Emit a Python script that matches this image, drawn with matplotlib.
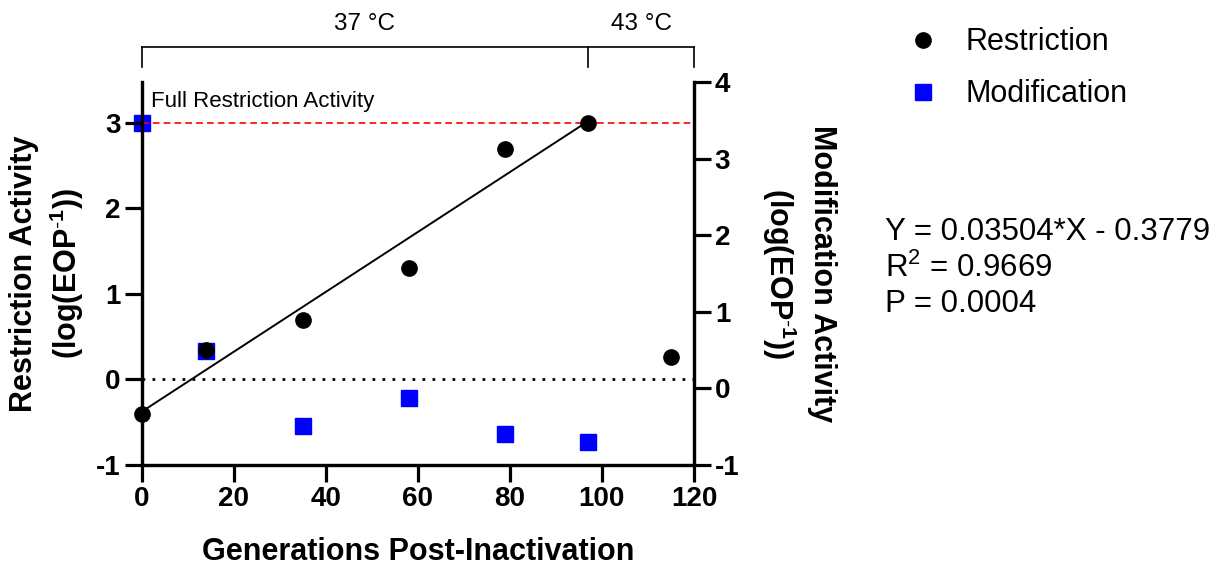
import matplotlib
matplotlib.use("Agg")
import matplotlib.pyplot as plt
import matplotlib.transforms as mtransforms
from matplotlib.lines import Line2D

plt.rcParams["font.family"] = ["Liberation Sans", "DejaVu Sans"]
plt.rcParams["mathtext.fontset"] = "custom"
plt.rcParams["mathtext.rm"] = "Liberation Sans"
plt.rcParams["mathtext.bf"] = "Liberation Sans:bold"
plt.rcParams["mathtext.default"] = "regular"
plt.rcParams["axes.unicode_minus"] = False

# restriction activity, left axis
gen_restr = [0, 14, 35, 58, 79, 97, 115]
restriction = [-0.40, 0.34, 0.69, 1.30, 2.70, 3.00, 0.26]

# modification activity, right axis
gen_mod = [0, 14, 35, 58, 79, 97]
modification = [3.47, 0.49, -0.49, -0.12, -0.60, -0.70]

# linear fit reported for restriction (37 °C points)
slope, intercept = 0.03504, -0.3779
fit_x = [0, 97]
full_restriction = 3.0

phases = [("37 °C", 0, 97), ("43 °C", 97, 120)]

fig = plt.figure(figsize=(12.15, 5.65), dpi=100)
ax = fig.add_axes([0.1165, 0.177, 0.4547, 0.678])
ax2 = ax.twinx()
ax.set_zorder(ax2.get_zorder() + 1)
ax.patch.set_visible(False)

ax.set_xlim(0, 120)
ax.set_ylim(-1, 3.48)
ax2.set_ylim(-1, 4)
ax.set_xticks(range(0, 121, 20))
ax.set_yticks([-1, 0, 1, 2, 3])
ax2.set_yticks([-1, 0, 1, 2, 3, 4])

lw_axis = 2.3
for a in (ax, ax2):
    for s in a.spines.values():
        s.set_linewidth(lw_axis)
    a.spines["top"].set_visible(False)
    a.tick_params(width=lw_axis, length=12, labelsize=20, pad=3)
    for lab in a.get_xticklabels() + a.get_yticklabels():
        lab.set_fontweight("bold")

# reference lines
ax.plot([0, 120], [full_restriction, full_restriction], color="#ff0000",
        ls=(0, (4, 2.5)), lw=1.2, zorder=1)
ax.plot([0, 120], [0, 0], color="black", ls=(0, (1, 2.6)), lw=2.0, zorder=1)
ax.text(2, 3.25, "Full Restriction Activity", fontsize=16, va="center")

fit_y = [slope * x + intercept for x in fit_x]
ax.plot(fit_x, fit_y, color="black", lw=1.4, zorder=2)

ax2.plot(gen_mod, modification, "s", color="#0000ff", ms=11, clip_on=False, zorder=3)
ax.plot(gen_restr, restriction, "o", color="black", ms=11, clip_on=False, zorder=4)

eop = r"(log(EOP$^{\text{-}\mathbf{1}}$))"
ax.set_xlabel("Generations Post-Inactivation", fontsize=22, fontweight="bold", labelpad=18)
ax.set_ylabel("Restriction Activity\n" + eop,
              fontsize=22, fontweight="bold", labelpad=7, linespacing=1.3)
ax2.set_ylabel("Modification Activity\n" + eop,
               fontsize=22, fontweight="bold", rotation=270, labelpad=70, linespacing=1.3)

# temperature bracket above the plot
trans = mtransforms.blended_transform_factory(ax.transData, ax.transAxes)
y_top, y_tick = 1.091, 1.040
ax.plot([0, 120], [y_top, y_top], color="black", lw=1.2, transform=trans, clip_on=False)
for x in (0, 97, 120):
    ax.plot([x, x], [y_tick, y_top], color="black", lw=1.2, transform=trans, clip_on=False)
for label, x0, x1 in phases:
    ax.text((x0 + x1) / 2, 1.15, label, fontsize=17.5, ha="center", va="center",
            transform=trans)

handles = [Line2D([], [], ls="none", marker="o", color="black", ms=11),
           Line2D([], [], ls="none", marker="s", color="#0000ff", ms=11)]
fig.legend(handles, ["Restriction", "Modification"], loc="upper left",
           bbox_to_anchor=(0.7245, 1.0), frameon=False, fontsize=22,
           handlelength=1.0, handletextpad=0.9, labelspacing=0.72)

fig.text(0.728, 1 - 232 / 565, "Y = 0.03504*X - 0.3779", fontsize=22.5, va="center")
fig.text(0.728, 1 - 268 / 565, r"R$^2$ = 0.9669", fontsize=22.5, va="center")
fig.text(0.728, 1 - 304 / 565, "P = 0.0004", fontsize=22.5, va="center")

fig.savefig("out.png", dpi=100)
